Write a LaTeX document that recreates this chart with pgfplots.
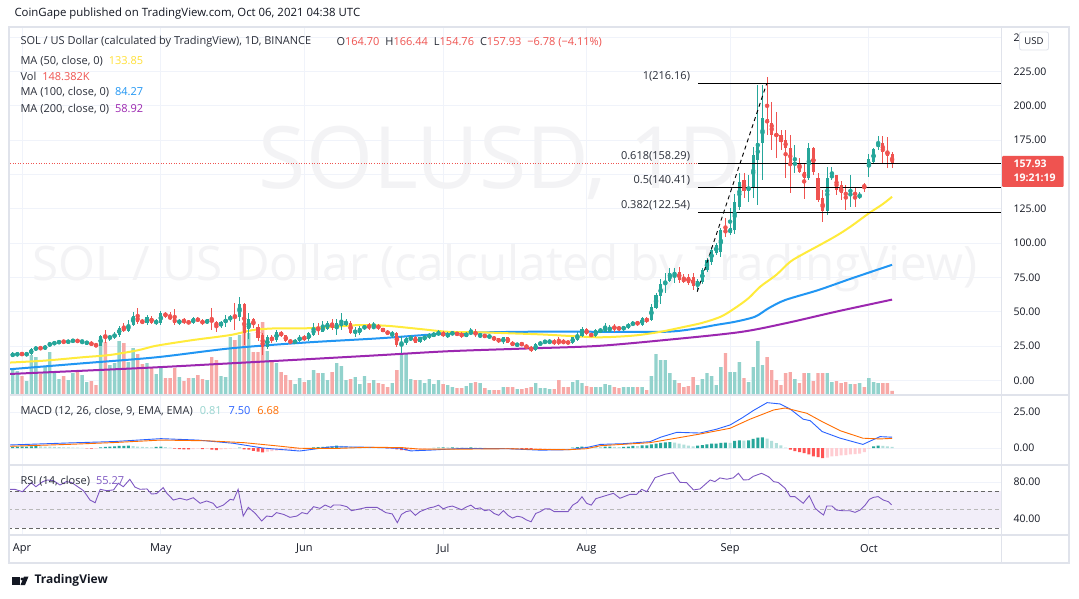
\documentclass[border=0pt]{standalone}
\usepackage{pgfplots}
\pgfplotsset{compat=1.18}
\usepackage{pgfplotstable}
\usepackage{fontspec}
\setmainfont{Open Sans}

\definecolor{upc}{HTML}{26A69A}
\definecolor{dnc}{HTML}{EF5350}
\definecolor{upv}{HTML}{92D2CC}
\definecolor{dnv}{HTML}{F7A9A7}
\definecolor{ma50}{HTML}{FFEB3B}
\definecolor{ma100}{HTML}{2196F3}
\definecolor{ma200}{HTML}{9C27B0}
\definecolor{txt}{HTML}{131722}
\definecolor{lbl}{HTML}{2A2E39}
\definecolor{gridc}{HTML}{F0F3FA}
\definecolor{sep}{HTML}{E0E3EB}
\definecolor{macdc}{HTML}{2962FF}
\definecolor{sigc}{HTML}{FF6D00}
\definecolor{hup}{HTML}{26A69A}
\definecolor{hupl}{HTML}{B2DFDB}
\definecolor{hdnl}{HTML}{FFCDD2}
\definecolor{hdn}{HTML}{FF5252}
\definecolor{rsic}{HTML}{7E57C2}
\definecolor{bandc}{HTML}{F2EEF9}
\definecolor{wm}{HTML}{F3F3F5}

% daily candles: day index (0 = 1 Apr 2021), open, high, low, close, volume (K)
\pgfplotstableread{
d o h l c v
-2 18.0 20.5 17.0 19.3 925
-1 18.8 20.2 17.9 19.5 888
0 19.5 20.0 18.6 19.0 703
1 18.9 19.8 18.3 19.5 518
2 19.4 23.5 18.8 22.6 1480
3 22.3 24.8 21.8 24.2 1406
4 24.2 25.0 22.0 23.0 777
5 22.8 26.0 21.9 25.3 1073
6 25.2 28.4 24.5 27.0 1591
7 26.8 28.5 25.8 27.6 814
8 27.5 29.0 26.9 28.4 592
9 28.4 29.5 27.2 27.9 703
10 27.9 29.4 27.1 28.6 555
11 28.5 30.0 27.9 29.3 814
12 29.3 30.2 27.6 28.2 851
13 28.2 29.2 26.8 28.8 740
14 27.0 28.8 26.2 28.0 481
15 28.0 28.6 25.0 25.5 518
16 25.8 27.0 24.6 25.3 370
17 25.3 33.0 24.8 32.3 2146
18 32.4 36.8 27.5 31.0 1961
19 31.0 33.5 28.8 32.0 1110
20 32.0 35.0 30.5 33.2 1184
21 33.0 39.8 31.8 38.5 1998
22 38.5 41.6 35.5 36.3 1924
23 36.2 44.0 35.0 40.5 1221
24 40.2 50.1 39.5 47.0 1739
25 47.0 52.5 41.5 42.6 1517
26 43.5 45.0 41.0 41.8 1147
27 41.6 48.0 40.5 46.0 1184
28 45.5 47.0 41.0 42.2 1036
29 42.0 44.5 40.5 43.2 777
30 41.6 50.5 40.5 49.4 999
31 49.4 50.0 45.5 46.5 629
32 47.0 49.8 43.8 44.6 629
33 45.3 52.0 40.5 41.6 999
34 41.6 45.0 40.5 44.1 666
35 44.1 45.5 41.0 42.8 518
36 43.0 44.0 40.8 41.6 629
37 41.6 46.0 41.0 45.3 629
38 45.3 46.0 42.5 43.3 740
39 43.5 44.5 40.5 41.6 592
40 41.6 45.0 40.8 44.5 555
41 44.1 52.6 36.8 42.9 1406
42 42.5 43.5 35.6 39.7 1295
43 39.7 43.2 38.5 42.9 703
44 42.0 47.7 39.2 44.5 666
45 44.5 48.0 42.5 46.5 2146
46 47.0 56.8 36.8 45.5 2035
47 46.0 61.1 43.0 55.7 2220
48 55.7 56.5 25.9 34.4 2590
49 37.3 48.9 30.0 44.5 2294
50 44.5 45.5 38.0 40.4 1591
51 39.2 41.0 29.0 30.7 1591
52 33.1 34.8 18.6 24.6 2701
53 24.6 33.0 23.0 31.4 1628
54 31.4 33.5 27.5 29.0 1295
55 29.5 37.0 28.0 35.6 1184
56 34.8 36.0 31.5 33.1 851
57 32.8 33.5 28.0 29.0 740
58 29.0 30.5 26.5 27.5 555
59 27.5 30.0 26.5 28.8 407
60 28.6 33.0 27.8 32.0 629
61 32.0 33.0 29.0 29.5 481
62 30.0 35.5 29.0 34.4 555
63 33.1 42.1 32.5 38.0 925
64 39.2 41.6 33.1 36.8 814
65 35.6 43.6 35.0 39.2 814
66 37.3 43.5 36.5 42.1 555
67 42.1 44.5 37.0 38.0 851
68 38.0 44.5 33.1 41.6 1184
69 40.4 48.9 36.8 41.6 1073
70 40.4 44.5 39.5 42.9 555
71 41.6 43.5 34.0 34.8 592
72 35.0 39.2 31.9 36.0 666
73 34.4 40.0 33.5 38.5 407
74 37.7 40.5 37.0 39.7 703
75 40.4 41.6 36.8 38.5 444
76 38.0 42.9 37.5 39.7 555
77 40.2 41.0 37.0 38.0 444
78 38.0 38.5 35.0 35.6 407
79 36.0 36.5 33.0 33.9 296
80 33.1 36.3 30.7 34.8 444
81 34.8 35.0 24.5 25.9 925
82 26.0 32.4 19.8 28.0 1517
83 27.1 31.5 26.0 30.7 1517
84 29.5 33.0 29.0 31.4 592
85 31.4 32.5 27.0 27.6 555
86 28.3 32.0 27.5 31.4 555
87 29.5 33.5 29.0 32.4 444
88 31.4 34.5 30.5 33.6 592
89 32.0 35.5 31.5 34.4 407
90 33.1 36.5 32.5 35.3 555
91 35.1 36.0 31.5 32.4 407
92 31.9 35.0 31.0 33.9 370
93 33.8 35.8 33.0 34.8 296
94 34.8 35.5 32.5 33.1 259
95 34.4 35.0 31.2 31.9 259
96 31.9 35.3 31.5 34.4 333
97 33.9 38.0 33.5 35.6 444
98 35.6 37.3 31.5 33.1 481
99 32.7 34.5 30.7 33.6 444
100 33.6 34.0 30.8 31.4 259
101 31.4 33.2 30.8 32.7 185
102 31.9 32.2 29.0 29.5 185
103 30.7 31.0 27.5 28.0 185
104 28.0 32.0 26.6 31.4 296
105 31.4 32.0 27.0 27.6 296
106 28.0 28.5 25.0 25.4 296
107 25.4 27.2 25.0 26.6 222
108 27.1 27.5 25.5 25.9 222
109 26.0 26.3 23.0 23.4 259
110 24.7 25.0 21.0 21.7 296
111 22.2 27.0 21.5 26.6 444
112 25.9 28.5 25.5 27.6 259
113 27.1 29.8 26.8 29.0 259
114 27.1 30.0 26.8 29.0 222
115 28.8 30.0 25.9 27.1 222
116 28.8 31.9 25.9 27.1 555
117 28.8 30.0 26.5 27.1 296
118 28.3 28.8 26.6 27.1 296
119 27.1 31.8 26.8 31.4 481
120 29.5 35.5 28.9 33.1 555
121 32.4 39.2 31.9 37.3 444
122 37.3 38.0 33.1 33.9 333
123 33.9 34.8 31.5 32.4 296
124 32.4 37.5 31.8 36.8 296
125 35.6 38.0 35.0 36.8 296
126 35.6 42.1 35.0 39.2 407
127 35.6 40.5 35.0 39.2 370
128 39.2 41.2 35.6 38.0 296
129 39.2 39.8 36.0 36.8 259
130 36.8 40.0 36.3 39.2 296
131 38.0 42.0 37.5 41.2 296
132 40.4 43.0 40.0 42.1 296
133 42.9 43.5 40.0 40.4 296
134 40.4 46.0 40.0 45.3 296
135 44.6 46.5 41.7 43.6 185
136 44.1 56.0 43.5 53.8 703
137 52.6 64.0 52.0 62.3 1517
138 61.5 74.0 56.0 70.0 1295
139 70.0 78.1 63.5 72.8 1295
140 72.7 81.7 71.5 78.1 814
141 76.0 81.7 70.8 79.2 555
142 79.2 82.4 70.8 73.2 444
143 74.4 77.6 70.8 72.0 296
144 75.6 77.6 69.6 70.8 333
145 75.2 78.1 65.9 68.8 666
146 68.8 74.0 65.4 72.7 370
147 72.0 82.0 70.0 80.5 592
148 80.5 89.0 79.0 87.8 814
149 86.6 97.5 84.1 95.1 703
150 92.6 100.0 91.5 98.7 370
151 93.8 111.0 90.2 109.6 1036
152 110.1 118.1 104.8 107.2 1554
153 107.2 125.4 106.0 110.8 851
154 109.6 136.0 107.0 130.0 851
155 126.6 150.9 124.0 144.8 1221
156 146.0 150.8 132.6 138.2 629
157 138.2 149.6 130.2 141.1 481
158 141.1 170.0 132.6 164.2 1036
159 160.6 215.2 127.8 172.7 1998
160 172.7 215.2 146.0 190.9 1110
161 190.2 221.3 178.8 187.3 1406
162 187.3 203.0 167.8 178.8 925
163 179.5 195.8 161.8 178.0 555
164 178.8 182.4 167.8 173.9 370
165 175.0 182.4 147.2 169.1 814
166 169.1 178.8 136.3 157.6 851
167 157.6 171.5 150.8 158.1 592
168 158.5 161.8 150.8 152.1 444
169 152.1 158.1 131.9 147.2 814
170 147.2 173.2 146.0 169.1 814
171 169.1 170.3 150.0 152.1 518
172 147.2 150.8 130.2 131.4 814
173 132.6 138.7 115.2 123.2 814
174 123.7 155.7 120.5 147.2 814
175 147.9 155.7 146.0 149.6 481
176 149.6 149.8 135.0 138.7 518
177 142.4 145.5 131.4 136.3 444
178 136.8 142.4 124.1 135.1 481
179 134.3 149.6 126.6 136.8 407
180 136.3 139.9 126.6 135.6 407
181 133.4 137.5 131.9 135.1 444
182 142.4 144.1 137.5 140.7 296
183 155.2 164.9 148.4 161.0 629
184 159.3 169.0 157.6 168.3 481
185 169.8 178.0 167.8 173.2 444
186 173.2 178.0 158.1 166.6 444
187 167.1 177.6 154.5 163.5 444
188 164.70 166.44 154.76 157.93 148.382
}\candles

% MACD histogram: day, value, colour class (0 rising>0, 1 falling>0, 2 rising<0, 3 falling<0)
\pgfplotstableread{
d v k
-2 0.8 0
-1 0.9 0
0 1.0 0
1 1.0 0
2 1.2 0
3 1.3 0
4 1.1 1
5 1.0 1
6 0.9 1
7 0.7 1
8 0.6 1
9 0.5 1
10 0.4 1
11 0.3 1
12 0.2 1
13 0.1 1
14 -0.3 3
15 -0.5 3
16 -0.4 2
17 0.5 0
18 0.8 0
19 1.0 0
20 1.2 0
21 1.4 0
22 1.5 0
23 1.6 0
24 1.3 1
25 1.0 1
26 0.7 1
27 0.6 1
28 0.4 1
29 0.8 0
30 1.0 0
31 0.6 1
32 0.2 1
33 -0.5 3
34 -0.7 3
35 -0.9 3
36 -1.0 3
37 -0.7 2
38 -0.5 2
39 -0.8 3
40 -0.6 2
41 -1.2 3
42 -1.4 3
43 -1.0 2
44 -0.7 2
45 -0.5 2
46 -0.3 2
47 0.3 0
48 -1.0 3
49 -1.2 3
50 -2.0 3
51 -2.5 3
52 -3.0 3
53 -2.5 2
54 -2.2 2
55 -1.8 2
56 -1.6 2
57 -1.5 2
58 -1.4 2
59 -1.2 2
60 -1.0 2
61 -0.8 2
62 -0.4 2
63 0.5 0
64 0.6 0
65 0.8 0
66 0.9 0
67 1.0 0
68 1.6 0
69 1.5 1
70 1.3 1
71 1.0 1
72 0.8 1
73 0.7 1
74 0.6 1
75 0.5 1
76 0.4 1
77 0.3 1
78 0.1 1
79 -0.3 3
80 -0.4 3
81 -1.0 3
82 -1.5 3
83 -1.6 3
84 -1.4 2
85 -1.2 2
86 -0.9 2
87 -0.6 2
88 -0.3 2
89 0.1 0
90 0.3 0
91 0.4 0
92 0.4 1
93 0.5 0
94 0.4 1
95 0.3 1
96 0.3 1
97 0.4 0
98 0.3 1
99 0.2 1
100 0.1 1
101 -0.1 3
102 -0.3 3
103 -0.5 3
104 -0.5 2
105 -0.6 3
106 -0.8 3
107 -0.8 2
108 -0.9 3
109 -1.0 3
110 -1.2 3
111 -0.9 2
112 -0.6 2
113 -0.4 2
114 -0.2 2
115 -0.1 2
116 -0.1 2
117 -0.1 2
118 -0.1 2
119 0.3 0
120 0.6 0
121 1.0 0
122 0.9 1
123 0.8 1
124 0.8 1
125 0.8 1
126 0.9 0
127 1.0 0
128 0.8 1
129 0.6 1
130 0.7 0
131 1.0 0
132 1.4 0
133 1.3 1
134 1.8 0
135 1.9 0
136 2.5 0
137 3.0 0
138 3.5 0
139 3.9 0
140 4.0 0
141 3.7 1
142 3.0 1
143 2.3 1
144 1.6 1
145 1.2 1
146 1.6 0
147 2.0 0
148 2.5 0
149 3.0 0
150 3.1 0
151 3.6 0
152 3.7 0
153 3.6 1
154 5.0 0
155 5.3 0
156 5.2 1
157 5.3 0
158 6.3 0
159 7.2 0
160 7.4 0
161 6.5 1
162 5.0 1
163 3.3 1
164 1.8 1
165 0.3 1
166 -1.2 3
167 -2.1 3
168 -2.8 3
169 -3.5 3
170 -4.4 3
171 -5.8 3
172 -6.3 3
173 -7.0 3
174 -6.7 2
175 -5.8 2
176 -5.6 2
177 -5.1 2
178 -4.9 2
179 -4.4 2
180 -4.2 2
181 -3.9 2
182 -2.8 2
183 -0.5 2
184 1.2 0
185 1.6 0
186 1.4 1
187 1.1 1
188 0.81 1
}\hist

\pgfplotsset{
  panel/.style={scale only axis, anchor=south west,
    xmin=-2.593, xmax=211.69, width=991.7pt,
    axis line style={draw=none}, tick style={draw=none},
    xticklabels={}, yticklabels={},
    xtick={0,30,61,91,122,153,183},
    grid style={gridc, line width=0.9pt}},
  candle up/.style={only marks, mark=none,
    restrict expr to domain={\thisrow{c}-\thisrow{o}}{0:10000}},
  candle dn/.style={only marks, mark=none,
    restrict expr to domain={\thisrow{c}-\thisrow{o}}{-10000:-0.0001}},
}

\begin{document}
\begin{tikzpicture}[x=1pt,y=1pt,font=\fontsize{11}{13}\selectfont]
\fill[white] (0,0) rectangle (1079,598);

% ---------- main panel grid ----------
\begin{axis}[panel, at={(10pt,203pt)}, height=368pt,
  ymin=-10.56, ymax=257.47, ytick={0,25,...,250}, grid=major]
\addplot[draw=none] coordinates {(0,0)};
\end{axis}

% watermark
\node[text=wm, font=\fontsize{86}{86}\selectfont] at (500,435) {SOLUSD, 1D};
\node[text=wm, font=\fontsize{47.5}{47.5}\selectfont] at (505,330) {SOL / US Dollar (calculated by TradingView)};

% ---------- volume ----------
\begin{axis}[panel, at={(10pt,203pt)}, height=368pt, ymin=0, ymax=13616,
  ytick=\empty, xtick=\empty]
\addplot[ybar, bar width=3.4pt, bar shift=0pt, fill=upv, draw=none,
  restrict expr to domain={\thisrow{c}-\thisrow{o}}{0:10000}]
  table[x=d, y=v] {\candles};
\addplot[ybar, bar width=3.4pt, bar shift=0pt, fill=dnv, draw=none,
  restrict expr to domain={\thisrow{c}-\thisrow{o}}{-10000:-0.0001}]
  table[x=d, y=v] {\candles};
\end{axis}

% ---------- price ----------
\begin{axis}[panel, at={(10pt,203pt)}, height=368pt,
  ymin=-10.56, ymax=257.47, ytick=\empty, xtick=\empty]
% moving averages
\addplot[ma200, line width=2pt, smooth] coordinates {
(-3,4.7) (13,7.1) (29,9.6) (45,12.5) (61,15.4) (77,18.4) (92,21.3) (108,23.2)
(124,25.1) (139,29.5) (155,35.2) (165,41.7) (176,50.2) (188,58.92)};
\addplot[ma100, line width=2pt, smooth] coordinates {
(-3,8.1) (13,12.5) (29,16.9) (45,23.4) (61,27.6) (77,30.7) (93,34.4) (109,35.5)
(125,35.5) (139,35.5) (145,37.5) (150,40.5) (154.1,42.8) (158.4,46.5) (161.3,52.6)
(164.9,58.6) (172.1,65.9) (179.3,74.4) (188,84.27)};
\addplot[ma50, line width=2pt, smooth] coordinates {
(-3,13.0) (5,14.5) (13,16.9) (19,18.6) (25,22.0) (29,25.3) (37,29.5) (45,33.1)
(50,36.8) (55,38.0) (61,38.0) (67,39.0) (73,40.4) (79,39.8) (86,37.5) (92,35.5)
(99,35.1) (106,34.3) (112,33.6) (118,32.5) (124,31.5) (128,31.8) (133,33.0)
(138,35.5) (143,39.0) (147,42.0) (151,46.5) (154,52.6) (157,60.0) (159.5,68.3)
(163,77.0) (166,86.5) (169,92.5) (172.4,98.7) (176,105.5) (179,112.0)
(183,121.8) (186,128.5) (188,133.85)};
% wicks
\addplot[upc, candle up, error bars/.cd, y dir=both, y explicit, error mark=none,
  error bar style={color=upc, line width=0.9pt}]
  table[x=d, y expr={(\thisrow{h}+\thisrow{l})/2},
        y error expr={(\thisrow{h}-\thisrow{l})/2}] {\candles};
\addplot[dnc, candle dn, error bars/.cd, y dir=both, y explicit, error mark=none,
  error bar style={color=dnc, line width=0.9pt}]
  table[x=d, y expr={(\thisrow{h}+\thisrow{l})/2},
        y error expr={(\thisrow{h}-\thisrow{l})/2}] {\candles};
% bodies
\addplot[upc, candle up, error bars/.cd, y dir=both, y explicit, error mark=none,
  error bar style={color=upc, line width=3.1pt}]
  table[x=d, y expr={(\thisrow{o}+\thisrow{c})/2},
        y error expr={max(abs(\thisrow{c}-\thisrow{o})/2,0.35)}] {\candles};
\addplot[dnc, candle dn, error bars/.cd, y dir=both, y explicit, error mark=none,
  error bar style={color=dnc, line width=3.1pt}]
  table[x=d, y expr={(\thisrow{o}+\thisrow{c})/2},
        y error expr={max(abs(\thisrow{c}-\thisrow{o})/2,0.35)}] {\candles};
% last price
\addplot[dnc, line width=1pt, dash pattern=on 1pt off 1.6pt] coordinates {(-2.6,157.93) (211.7,157.93)};
% Fibonacci retracement
\addplot[black, line width=1.1pt] coordinates {(146.07,216.16) (211.7,216.16)};
\addplot[black, line width=1.1pt] coordinates {(146.07,158.29) (211.7,158.29)};
\addplot[black, line width=1.1pt] coordinates {(146.07,140.41) (211.7,140.41)};
\addplot[black, line width=1.1pt] coordinates {(146.07,122.54) (211.7,122.54)};
\addplot[black, line width=0.9pt, dash pattern=on 4pt off 3.5pt] coordinates {(145.9,64.66) (160.9,216.16)};
\node[anchor=east, text=lbl] at (axis cs:145.1,221.4) {1(216.16)};
\node[anchor=east, text=lbl] at (axis cs:145.1,163.5) {0.618(158.29)};
\node[anchor=east, text=lbl] at (axis cs:145.1,145.6) {0.5(140.41)};
\node[anchor=east, text=lbl] at (axis cs:145.1,127.7) {0.382(122.54)};
\end{axis}

% ---------- MACD ----------
\begin{axis}[panel, at={(10pt,133pt)}, height=70pt, ymin=-11.81, ymax=36.81,
  ytick={0,25}, grid=major]
\addplot[ybar, bar width=3pt, bar shift=0pt, fill=hup, draw=none,
  restrict expr to domain={\thisrow{k}}{-0.5:0.5}] table[x=d,y=v] {\hist};
\addplot[ybar, bar width=3pt, bar shift=0pt, fill=hupl, draw=none,
  restrict expr to domain={\thisrow{k}}{0.5:1.5}] table[x=d,y=v] {\hist};
\addplot[ybar, bar width=3pt, bar shift=0pt, fill=hdnl, draw=none,
  restrict expr to domain={\thisrow{k}}{1.5:2.5}] table[x=d,y=v] {\hist};
\addplot[ybar, bar width=3pt, bar shift=0pt, fill=hdn, draw=none,
  restrict expr to domain={\thisrow{k}}{2.5:3.5}] table[x=d,y=v] {\hist};
\addplot[macdc, line width=0.9pt] coordinates {
(-2.6,2.1) (10,3.5) (20,4.5) (30,6.5) (38,5.5) (45.6,3.3) (52,0.0) (60,-2.1)
(67,0.9) (75,0.5) (81.7,-0.2) (84,-2.0) (88,-1.5) (95,-0.3) (105,-0.5)
(112,-1.5) (118,-1.2) (122,0.3) (125,2.5) (130,3.0) (135.7,4.4) (138,7.5)
(141.5,10.9) (146.5,10.4) (150,13.0) (153,16.0) (155.8,21.3) (158,26.0)
(161,31.5) (163.8,30.6) (166,27.0) (168.8,20.0) (170.3,19.0) (172.9,11.4)
(176.8,6.8) (181.7,2.5) (185.4,7.9) (188,7.50)};
\addplot[sigc, line width=0.9pt] coordinates {
(-2.6,1.2) (10,2.5) (20,3.8) (30,5.5) (40,5.0) (48,3.7) (55,1.5) (60,-0.2)
(68,-0.3) (75,0.5) (82,0.3) (86,-0.8) (95,-0.8) (105,-0.5) (112,-1.0)
(118,-1.2) (122,-0.5) (125,1.6) (135.7,3.7) (146.5,9.7) (153,13.7)
(157.3,20.0) (162.4,26.4) (164.9,27.8) (169.6,24.1) (172.9,18.3) (176.8,12.0)
(181.7,6.8) (185.4,6.3) (188,6.68)};
\end{axis}

% ---------- RSI ----------
\begin{axis}[panel, at={(10pt,63pt)}, height=70pt, ymin=22.70, ymax=98.38,
  ytick={40,80}, grid=major]
\fill[bandc] (axis cs:-3,30) rectangle (axis cs:212,70);
\draw[gray!80!black, dash pattern=on 4pt off 3pt, line width=0.7pt] (axis cs:-3,70) -- (axis cs:212,70);
\draw[gray!80!black, dash pattern=on 4pt off 3pt, line width=0.7pt] (axis cs:-3,30) -- (axis cs:212,30);
\draw[gray!55, dash pattern=on 4pt off 3pt, line width=0.6pt] (axis cs:-3,50) -- (axis cs:212,50);
\addplot[rsic, line width=0.9pt] coordinates {
(-2.6,72.1) (-1.5,72.0) (0.1,69.5) (2,79.3) (3,74.9) (4.5,80.4) (5.5,82.2)
(6.8,81.5) (8.2,76.8) (9.6,80.4) (10.7,79.5) (13.3,70.6) (14.7,60.5)
(15.8,57.6) (16.9,72.1) (18.3,70.6) (19.8,71.5) (20.8,78.6) (21.9,74.9)
(23.3,82.9) (24.4,74.5) (25.5,72.1) (27,72.5) (28,67.0) (29.1,67.5)
(30.5,73.9) (31.3,67.8) (32.7,60.5) (34.1,62.4) (35.6,60.5) (37,63.0)
(38.5,57.0) (39.9,59.5) (41.3,57.0) (42.1,52.2) (43.5,55.0) (45,61.3)
(45.7,60.5) (46.7,72.1) (47.8,43.2) (48.9,52.6) (50.4,46.1) (51.8,37.8)
(52.9,43.2) (54,42.5) (55,46.9) (56.5,45.0) (57.9,41.8) (59.4,43.2)
(60.5,46.9) (61.6,45.5) (63,53.3) (64.4,51.5) (65.5,55.1) (66.7,52.5)
(67.3,55.1) (68.8,55.1) (70.2,53.3) (71.2,49.0) (73.1,51.0) (74.5,52.6)
(76.7,52.6) (78.6,46.9) (80,45.5) (81.1,36.0) (82,45) (83,48) (84,49)
(85,44) (86,48) (87,50) (88,52) (89,53) (90,55) (91,51) (92,53) (93,54)
(94,52) (95,50) (96,53) (97,55) (98,51) (99,52) (100,49) (101,50) (102,46)
(103,44) (104,49) (105,44) (106,41) (107,43) (108,42) (109,39) (110,37)
(111,46) (112,48) (113,51) (114,51) (115,48) (116,48) (117,48) (118,48)
(119,55) (120,58) (121,64) (122,57) (123,55) (124,62) (124.9,63.4)
(127.8,67.8) (129.2,62.4) (131.4,66.7) (132.8,66.5) (133.9,72.1) (135,69.5)
(136.8,84.7) (138.9,88.3) (140.7,90.1) (142.2,79.6) (143.6,79.3) (145.1,71.4)
(146.5,72.5) (148.7,82.2) (149.7,80.4) (150.8,84.4) (152.3,83.0) (153.7,84.5)
(154.8,89.4) (155.9,82.2) (157,82.5) (158,86.1) (159.8,89.4) (161.3,85.8)
(162.4,80.4) (163.4,79.5) (164.9,73.2) (166,64.2) (167,64.2) (168.8,57.0)
(170.1,65.2) (171.4,51.5) (172.4,47.2) (173.2,44.3) (173.9,54.1) (175,54.1)
(176,49.7) (177.5,48.9) (178.9,48.9) (180,47.2) (181.1,49.7) (182.2,55.1)
(183.1,61.3) (184,63.4) (185,64.2) (186.1,60.5) (187.2,58.7) (187.9,55.27)};
\end{axis}

% ---------- frame and separators ----------
\draw[sep, line width=1.2pt] (9,203) -- (1069,203);
\draw[sep, line width=1.2pt] (9,133) -- (1069,133);
\draw[sep, line width=1.2pt] (9,63) -- (1069,63);
\draw[sep, line width=1.2pt] (1001.7,35) -- (1001.7,571);
\draw[sep, line width=1.6pt] (9,35) rectangle (1069,571);

% ---------- header and legends ----------
\node[anchor=west, text=txt, font=\fontsize{11.4}{13}\selectfont] at (11,584) {CoinGape published on TradingView.com, Oct 06, 2021 04:38 UTC};
\node[anchor=west, text=lbl] at (17,556) {SOL / US Dollar (calculated by TradingView), 1D, BINANCE};
\node[anchor=west, text=lbl] at (333,556) {O\textcolor{dnc}{164.70}\hspace{6pt}H\textcolor{dnc}{166.44}\hspace{6pt}L\textcolor{dnc}{154.76}\hspace{6pt}C\textcolor{dnc}{157.93}\hspace{6pt}\textcolor{dnc}{−6.78 (−4.11\%)}};
\node[anchor=west, text=lbl] at (17,537.3) {MA (50, close, 0)\hspace{6pt}\textcolor{ma50!90!orange}{133.85}};
\node[anchor=west, text=lbl] at (17,521.3) {Vol\hspace{6pt}\textcolor{dnc}{148.382K}};
\node[anchor=west, text=lbl] at (17,506) {MA (100, close, 0)\hspace{6pt}\textcolor{ma100}{84.27}};
\node[anchor=west, text=lbl] at (17,489) {MA (200, close, 0)\hspace{6pt}\textcolor{ma200}{58.92}};
\node[anchor=west, text=lbl] at (17,187.3) {MACD (12, 26, close, 9, EMA, EMA)\hspace{7pt}\textcolor{hupl!80!upc}{0.81}\hspace{7pt}\textcolor{macdc}{7.50}\hspace{7pt}\textcolor{sigc}{6.68}};
\node[anchor=west, text=lbl] at (17,117.3) {RSI (14, close)\hspace{6pt}\textcolor{rsic}{55.27}};

% ---------- price scale ----------
\foreach \yy/\tt in {560.7/250.00, 526.4/225.00, 492.1/200.00, 457.8/175.00, 389.1/125.00,
  354.8/100.00, 320.5/75.00, 286.1/50.00, 251.8/25.00, 217.5/0.00,
  186/25.00, 150/0.00, 116/80.00, 79/40.00}
  \node[anchor=west, text=txt, font=\fontsize{10.5}{12}\selectfont] at (1010,\yy) {\tt};
\fill[white, draw=sep, rounded corners=2pt, line width=0.8pt] (1019.5,548) rectangle (1048.5,566);
\node[text=txt, font=\fontsize{9.5}{11}\selectfont] at (1034,557) {USD};
\fill[dnc, rounded corners=1pt] (1002,411) rectangle (1063.5,442);
\node[anchor=west, text=white, font=\fontsize{10.5}{12}\selectfont\bfseries] at (1010,434) {157.93};
\node[anchor=west, text=white, font=\fontsize{10.5}{12}\selectfont\bfseries] at (1010,420.5) {19:21:19};

% ---------- time scale ----------
\foreach \xx/\mm in {22/Apr, 160.8/May, 304.3/Jun, 443.1/Jul, 586.6/Aug, 730.1/Sep, 868.9/Oct}
  \node[text=txt] at (\xx,49) {\mm};

% ---------- footer ----------
\fill[txt] (12,13) rectangle (20,21.5);
\fill[txt] (20.5,13) -- (24,21.5) -- (28.5,21.5) -- (25,13) -- cycle;
\fill[txt] (22,19) circle (1.6);
\node[anchor=west, text=txt, font=\fontsize{12}{14}\selectfont\bfseries] at (31,17.5) {TradingView};

\pgfresetboundingbox
\path (0,0) rectangle (1079,598);
\end{tikzpicture}
\end{document}
